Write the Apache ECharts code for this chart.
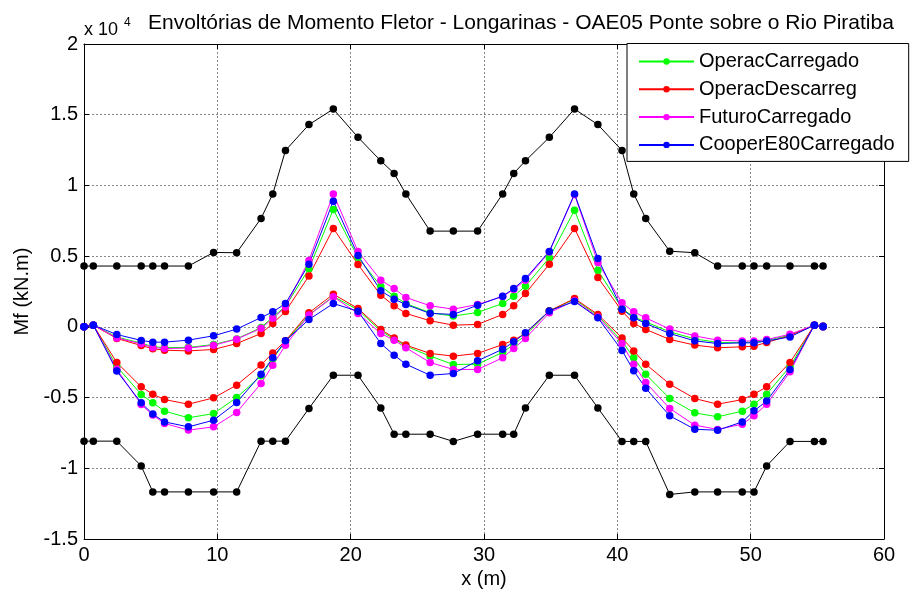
<!DOCTYPE html>
<html>
<head>
<meta charset="utf-8">
<script src="https://cdn.jsdelivr.net/npm/echarts@6/dist/echarts.min.js"></script>
<style>
html,body{margin:0;padding:0;background:#fff;}
#chart{width:916px;height:594px;}
</style>
</head>
<body>
<div id="chart"></div>
<script>
// x positions along the bridge (m)
const xPos = [0, 0.7, 2.46, 4.29, 5.16, 6.04, 7.83, 9.72, 11.45, 13.28, 14.16, 15.11, 16.87, 18.7, 20.55,
  22.26, 23.26, 24.14, 25.96, 27.7, 29.52, 31.4, 32.23, 33.11, 34.9, 36.79, 38.54, 40.35, 41.23, 42.13,
  43.93, 45.81, 47.52, 49.37, 50.25, 51.2, 52.95, 54.78, 55.43];

// Values in units of 10^4 kN.m
const envelopeMax = [0.43, 0.43, 0.43, 0.43, 0.43, 0.43, 0.43, 0.526, 0.524, 0.767, 0.94, 1.247, 1.43, 1.54, 1.34,
  1.174, 1.085, 0.94, 0.677, 0.677, 0.677, 0.94, 1.085, 1.174, 1.34, 1.54, 1.43, 1.247, 0.94, 0.767,
  0.535, 0.524, 0.43, 0.43, 0.43, 0.43, 0.43, 0.43, 0.43];
const envelopeMin = [-0.808, -0.808, -0.808, -0.983, -1.167, -1.167, -1.167, -1.167, -1.167, -0.808, -0.808, -0.808, -0.577, -0.342, -0.342,
  -0.573, -0.759, -0.759, -0.759, -0.81, -0.759, -0.759, -0.759, -0.573, -0.342, -0.342, -0.573, -0.81, -0.81, -0.81,
  -1.185, -1.167, -1.167, -1.167, -1.167, -0.983, -0.81, -0.81, -0.81];

const operacCarregadoMax = [0, 0.012, -0.072, -0.115, -0.14, -0.147, -0.145, -0.125, -0.085, -0.005, 0.07, 0.145, 0.41, 0.83, 0.49,
  0.288, 0.217, 0.165, 0.1, 0.076, 0.102, 0.165, 0.217, 0.288, 0.488, 0.825, 0.401, 0.13, 0.07, 0.035,
  -0.035, -0.085, -0.11, -0.11, -0.108, -0.095, -0.06, 0.012, 0.005];
const operacCarregadoMin = [0, 0.012, -0.28, -0.478, -0.537, -0.596, -0.643, -0.613, -0.5, -0.345, -0.225, -0.105, 0.085, 0.215, 0.12,
  -0.03, -0.085, -0.136, -0.207, -0.266, -0.264, -0.18, -0.125, -0.06, 0.113, 0.195, 0.078, -0.1, -0.219, -0.335,
  -0.507, -0.608, -0.636, -0.596, -0.547, -0.476, -0.28, 0.012, 0];

const operacDescarregMax = [0, 0.012, -0.082, -0.132, -0.155, -0.165, -0.17, -0.16, -0.118, -0.047, 0.024, 0.109, 0.36, 0.696, 0.441,
  0.224, 0.149, 0.095, 0.043, 0.012, 0.017, 0.088, 0.149, 0.236, 0.443, 0.696, 0.349, 0.111, 0.024, -0.018,
  -0.089, -0.129, -0.148, -0.141, -0.137, -0.11, -0.062, 0.012, 0.005];
const operacDescarregMin = [0, 0.012, -0.252, -0.424, -0.476, -0.514, -0.547, -0.502, -0.412, -0.269, -0.184, -0.099, 0.099, 0.231, 0.13,
  -0.018, -0.078, -0.129, -0.188, -0.207, -0.188, -0.125, -0.094, -0.047, 0.113, 0.2, 0.088, -0.078, -0.17, -0.264,
  -0.405, -0.507, -0.547, -0.514, -0.476, -0.424, -0.252, 0.012, 0];

const futuroCarregadoMax = [0, 0.012, -0.078, -0.12, -0.146, -0.153, -0.15, -0.13, -0.087, -0.01, 0.06, 0.14, 0.47, 0.94, 0.533,
  0.33, 0.271, 0.208, 0.149, 0.125, 0.158, 0.215, 0.265, 0.33, 0.53, 0.935, 0.455, 0.17, 0.106, 0.064,
  -0.016, -0.064, -0.094, -0.1, -0.1, -0.09, -0.052, 0.012, 0.005];
const futuroCarregadoMin = [0, 0.012, -0.3, -0.549, -0.624, -0.683, -0.73, -0.707, -0.605, -0.4, -0.271, -0.13, 0.083, 0.212, 0.095,
  -0.047, -0.094, -0.148, -0.252, -0.301, -0.301, -0.219, -0.153, -0.082, 0.1, 0.185, 0.07, -0.118, -0.264, -0.393,
  -0.577, -0.695, -0.725, -0.688, -0.629, -0.547, -0.318, 0.012, 0];

const cooperE80Max = [0, 0.012, -0.054, -0.096, -0.108, -0.108, -0.094, -0.063, -0.016, 0.066, 0.106, 0.165, 0.443, 0.889, 0.505,
  0.255, 0.196, 0.158, 0.095, 0.088, 0.153, 0.217, 0.271, 0.342, 0.533, 0.94, 0.484, 0.125, 0.064, 0.024,
  -0.047, -0.099, -0.118, -0.113, -0.113, -0.1, -0.071, 0.012, 0.005];
const cooperE80Min = [0, 0.012, -0.313, -0.537, -0.617, -0.672, -0.707, -0.66, -0.535, -0.335, -0.219, -0.099, 0.052, 0.165, 0.111,
  -0.118, -0.2, -0.264, -0.342, -0.33, -0.24, -0.158, -0.106, -0.042, 0.113, 0.18, 0.064, -0.167, -0.311, -0.434,
  -0.629, -0.724, -0.731, -0.672, -0.594, -0.525, -0.301, 0.012, 0];

const seriesNames = ['OperacCarregado', 'OperacDescarreg', 'FuturoCarregado', 'CooperE80Carregado'];
const seriesColors = ['#00ff00', '#ff0000', '#ff00ff', '#0000ff'];
const seriesData = [
  [operacCarregadoMax, operacCarregadoMin],
  [operacDescarregMax, operacDescarregMin],
  [futuroCarregadoMax, futuroCarregadoMin],
  [cooperE80Max, cooperE80Min]
];

const xTicks = {min: 0, max: 60, interval: 10};
const yTicks = {min: -1.5, max: 2, interval: 0.5};

const FONT = 'Liberation Sans';
const pair = arr => xPos.map((x, i) => [x, arr[i]]);

function lineSeries(name, color, arr) {
  return {
    name: name, type: 'line', data: pair(arr),
    xAxisIndex: 0, yAxisIndex: 0,
    symbol: 'circle', symbolSize: 7.5, showSymbol: true, showAllSymbol: true,
    lineStyle: {color: color, width: 1},
    itemStyle: {color: color},
    emphasis: {disabled: true},
    z: 3
  };
}

const series = [];
seriesNames.forEach((n, k) => {
  series.push(lineSeries(n, seriesColors[k], seriesData[k][0]));
  series.push(lineSeries(n, seriesColors[k], seriesData[k][1]));
});
series.push(lineSeries('EnvMax', '#000000', envelopeMax));
series.push(lineSeries('EnvMin', '#000000', envelopeMin));

const chart = echarts.init(document.getElementById('chart'), null, {renderer: 'canvas'});
const axisCommon = {
  axisLine: {show: true, onZero: false, lineStyle: {color: '#000', width: 1}},
  axisTick: {show: true, inside: true, length: 5, lineStyle: {color: '#000'}},
};
chart.setOption({
  animation: false,
  backgroundColor: '#fff',
  textStyle: {fontFamily: FONT},
  title: {
    text: 'Envoltórias de Momento Fletor - Longarinas - OAE05 Ponte sobre o Rio Piratiba',
    left: 143, top: 8,
    textStyle: {fontFamily: FONT, fontSize: 21, fontWeight: 'normal', color: '#000'}
  },
  graphic: [
    {type: 'text', left: 84, top: 21, style: {text: 'x 10', font: '18px "Liberation Sans"', fill: '#000'}},
    {type: 'text', left: 124, top: 17, style: {text: '4', font: '12px "Liberation Sans"', fill: '#000'}}
  ],
  grid: {left: 84, right: 32, top: 44, bottom: 55, containLabel: false, outerBoundsMode: 'none'},
  legend: {
    data: seriesNames,
    orient: 'vertical',
    left: 627, top: 43.5,
    padding: [8, 14, 6.5, 11],
    itemWidth: 55, itemHeight: 8, itemGap: 7.8,
    backgroundColor: '#fff', borderColor: '#000', borderWidth: 1, borderRadius: 0,
    textStyle: {fontFamily: FONT, fontSize: 20, lineHeight: 20, color: '#000'},
    selectedMode: false
  },
  xAxis: [
    Object.assign({
      type: 'value', position: 'bottom', min: xTicks.min, max: xTicks.max, interval: xTicks.interval,
      name: 'x (m)', nameLocation: 'middle', nameGap: 28,
      nameTextStyle: {fontFamily: FONT, fontSize: 20, color: '#000'},
      axisLabel: {fontFamily: FONT, fontSize: 20, color: '#000', margin: 6},
      splitLine: {show: true, lineStyle: {color: '#888', type: [2, 2], width: 1}}
    }, axisCommon),
    Object.assign({
      type: 'value', position: 'top', min: xTicks.min, max: xTicks.max, interval: xTicks.interval,
      axisLabel: {show: false}, splitLine: {show: false}
    }, axisCommon)
  ],
  yAxis: [
    Object.assign({
      type: 'value', position: 'left', min: yTicks.min, max: yTicks.max, interval: yTicks.interval,
      name: 'Mf (kN.m)', nameLocation: 'middle', nameGap: 50, nameRotate: 90,
      nameTextStyle: {fontFamily: FONT, fontSize: 20, color: '#000'},
      axisLabel: {fontFamily: FONT, fontSize: 20, color: '#000', margin: 6},
      splitLine: {show: true, lineStyle: {color: '#888', type: [2, 2], width: 1}}
    }, axisCommon),
    Object.assign({
      type: 'value', position: 'right', min: yTicks.min, max: yTicks.max, interval: yTicks.interval,
      axisLabel: {show: false}, splitLine: {show: false}
    }, axisCommon)
  ],
  series: series
});
</script>
</body>
</html>
